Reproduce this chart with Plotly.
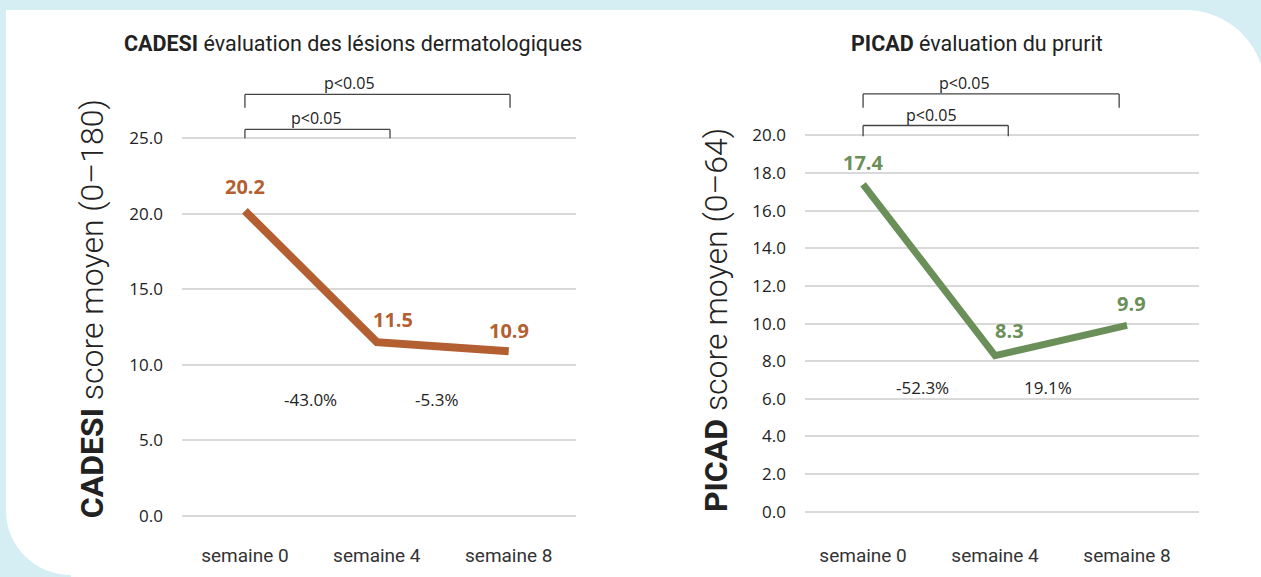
import plotly.graph_objects as go

W, H = 1261, 577

weeks = ["semaine 0", "semaine 4", "semaine 8"]
cadesi = [20.2, 11.5, 10.9]
picad = [17.4, 8.3, 9.9]
cadesi_pct = ["-43.0%", "-5.3%"]
picad_pct = ["-52.3%", "19.1%"]
cadesi_ticks = [0, 5, 10, 15, 20, 25]
picad_ticks = [0, 2, 4, 6, 8, 10, 12, 14, 16, 18, 20]
sig_label = "p<0.05"

ORANGE = "#b45f31"
GREEN = "#6a8f58"
GRID = "#d9d9d9"
TXT = "#222222"
BG = "#d5eef3"
NUM_FONT = "Open Sans"
DIN_FONT = "Roboto"


def px(x):
    return x / W


def py(y):
    return 1 - y / H


fig = go.Figure()
fig.add_trace(go.Scatter(x=weeks, y=cadesi, mode="lines",
                         line=dict(color=ORANGE, width=8),
                         xaxis="x", yaxis="y", hoverinfo="skip"))
fig.add_trace(go.Scatter(x=weeks, y=picad, mode="lines",
                         line=dict(color=GREEN, width=7),
                         xaxis="x2", yaxis="y2", hoverinfo="skip"))

xcommon = dict(type="category", showgrid=False, showline=False, zeroline=False,
               ticks="", tickfont=dict(family=DIN_FONT, size=19, color="#333"),
               fixedrange=True)
ycommon = dict(showline=False, ticks="", tickformat=".1f",
               gridcolor=GRID, gridwidth=2, zeroline=True, zerolinecolor=GRID,
               zerolinewidth=2,
               tickfont=dict(family=NUM_FONT, size=17, color=TXT),
               ticklabelstandoff=18, fixedrange=True)

fig.update_layout(
    width=W, height=H,
    margin=dict(l=0, r=0, t=0, b=0),
    paper_bgcolor=BG, plot_bgcolor="rgba(0,0,0,0)",
    showlegend=False,
    xaxis=dict(xcommon, domain=[px(182), px(576)], range=[-0.477, 2.51], anchor="y",
               ticklabelstandoff=19),
    yaxis=dict(ycommon, domain=[py(525.64), py(128.36)], range=[-0.5, 25.5],
               tickvals=cadesi_ticks, anchor="x"),
    xaxis2=dict(xcommon, domain=[px(805), px(1199)], range=[-0.44, 2.545], anchor="y2",
                ticklabelstandoff=23),
    yaxis2=dict(ycommon, domain=[py(521.62), py(125.38)], range=[-0.4, 20.4],
                tickvals=picad_ticks, anchor="x2"),
)

# white card with rounded corners (top-right and bottom-left)
k = 0.5523
R1, cx1, cy1 = 80, 1185, 86
R2, cx2, cy2 = 65, 71, 513
path = (
    f"M {px(6)},{py(6)} "
    f"L {px(cx1)},{py(6)} "
    f"C {px(cx1 + k*R1)},{py(6)} {px(cx1 + R1)},{py(cy1 - k*R1)} {px(cx1 + R1)},{py(cy1)} "
    f"L {px(cx1 + R1)},{py(600)} "
    f"L {px(cx2)},{py(600)} "
    f"L {px(cx2)},{py(cy2 + R2)} "
    f"C {px(cx2 - k*R2)},{py(cy2 + R2)} {px(6)},{py(cy2 + k*R2)} {px(6)},{py(cy2)} Z"
)
fig.add_shape(type="path", path=path, xref="paper", yref="paper",
              fillcolor="white", line=dict(width=0), layer="below")


def note(text, x, y, xref="paper", yref="paper", **kw):
    fig.add_annotation(text=text, x=x, y=y, xref=xref, yref=yref, showarrow=False,
                       xanchor="center", yanchor="middle", **kw)


# titles
note("<b>CADESI</b> évaluation des lésions dermatologiques", px(353), py(40),
     font=dict(family=DIN_FONT, size=21.5, color=TXT))
note("<b>PICAD</b> évaluation du prurit", px(977), py(40),
     font=dict(family=DIN_FONT, size=21.5, color=TXT))

# axis titles
note("<b>CADESI</b> score moyen (0–180)", px(92), py(309), textangle=-90,
     font=dict(family=DIN_FONT, size=32, color=TXT, weight=300))
note("<b>PICAD</b> score moyen (0–64)", px(716), py(320), textangle=-90,
     font=dict(family=DIN_FONT, size=32, color=TXT, weight=300))

# data labels
c_shift = [(0, 24), (16, 23), (0, 21)]
for i, v in enumerate(cadesi):
    note(f"<b>{v:.1f}</b>", i, v, xref="x", yref="y",
         xshift=c_shift[i][0], yshift=c_shift[i][1],
         font=dict(family=NUM_FONT, size=20, color=ORANGE))
p_shift = [(0, 22), (14, 25), (4, 22)]
for i, v in enumerate(picad):
    note(f"<b>{v:.1f}</b>", i, v, xref="x2", yref="y2",
         xshift=p_shift[i][0], yshift=p_shift[i][1],
         font=dict(family=NUM_FONT, size=20, color=GREEN))

# percentage changes
for t, xi in zip(cadesi_pct, [0.5, 1.45]):
    note(t, xi, py(400), xref="x", font=dict(family=NUM_FONT, size=17, color=TXT))
for t, xi in zip(picad_pct, [0.45, 1.4]):
    note(t, xi, py(388), xref="x2", font=dict(family=NUM_FONT, size=17, color=TXT))


# significance brackets
def bracket(xref, x0, x1, ytop, ybot, tx, ty):
    ln = dict(color="#444", width=1.3)
    fig.add_shape(type="line", xref=xref, yref="paper", x0=x0, x1=x1,
                  y0=py(ytop), y1=py(ytop), line=ln)
    fig.add_shape(type="line", xref=xref, yref="paper", x0=x0, x1=x0,
                  y0=py(ytop), y1=py(ybot), line=ln)
    fig.add_shape(type="line", xref=xref, yref="paper", x0=x1, x1=x1,
                  y0=py(ytop), y1=py(ybot), line=ln)
    note(sig_label, tx, py(ty), xref=xref,
         font=dict(family=NUM_FONT, size=16, color=TXT))


bracket("x", 0, 2.01, 91.5, 105, 0.79, 80)
bracket("x", 0, 1.1, 127, 136, 0.545, 115)
bracket("x2", 0, 1.94, 91, 105, 0.765, 80)
bracket("x2", 0, 1.1, 123, 134, 0.52, 112)

fig.write_html("out.html", config={"displayModeBar": False, "staticPlot": True},
               post_script="document.body.style.margin='0';document.body.style.overflow='hidden';")
